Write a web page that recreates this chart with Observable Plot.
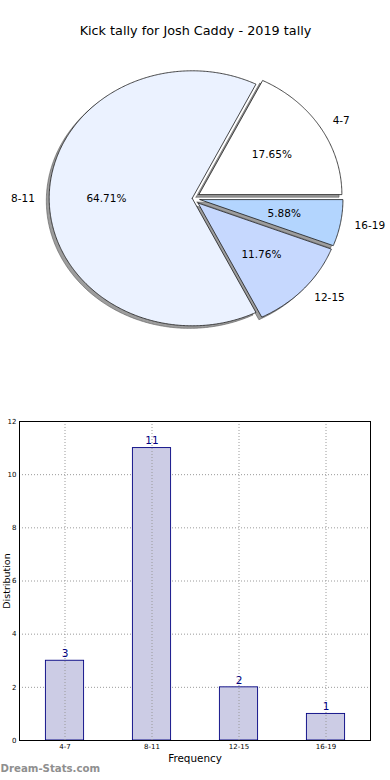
<!DOCTYPE html>
<html>
<head>
<meta charset="utf-8">
<script src="https://cdn.jsdelivr.net/npm/d3@7"></script>
<script src="https://cdn.jsdelivr.net/npm/@observablehq/plot@0.6"></script>
<style>
  html, body { margin: 0; padding: 0; background: #fff; }
  #chart svg { display: block; }
</style>
</head>
<body>
<div id="chart"></div>
<script>
// ---- data ----
const title = "Kick tally for Josh Caddy - 2019 tally";
const categories = ["4-7", "8-11", "12-15", "16-19"];
const counts = [3, 11, 2, 1];
const sliceColors = ["#ffffff", "#ebf2ff", "#c6d8fe", "#b3d5fe"];
const yTicks = [0, 2, 4, 6, 8, 10, 12];
const xLabel = "Frequency";
const yLabel = "Distribution";
const watermark = "Dream-Stats.com";

// ---- pie geometry (unit radius, data coords) ----
const explode = [0.055, 0, 0.055, 0.055];
const total = d3.sum(counts);
let acc = 0;
const slices = categories.map((cat, i) => {
  const a0 = acc / total * 2 * Math.PI;
  acc += counts[i];
  const a1 = acc / total * 2 * Math.PI;
  const mid = (a0 + a1) / 2;
  const ox = explode[i] * Math.cos(mid), oy = explode[i] * Math.sin(mid);
  return {cat, i, a0, a1, mid, ox, oy, pct: (counts[i] / total * 100).toFixed(2) + "%"};
});
function outline(s, dx = 0, dy = 0) {
  const pts = [{x: s.ox + dx, y: s.oy + dy}];
  const n = Math.max(8, Math.ceil((s.a1 - s.a0) / 0.01));
  for (let k = 0; k <= n; k++) {
    const a = s.a0 + (s.a1 - s.a0) * k / n;
    pts.push({x: s.ox + dx + Math.cos(a), y: s.oy + dy + Math.sin(a)});
  }
  pts.push({x: s.ox + dx, y: s.oy + dy});
  return pts.map(p => ({...p, cat: s.cat}));
}
const wedgePts = slices.flatMap(s => outline(s));
const shadowPts = slices.flatMap(s => outline(s, -0.02, -0.02));
const catLabels = slices.map(s => ({
  x: s.ox + 1.1 * Math.cos(s.mid), y: s.oy + 1.1 * Math.sin(s.mid),
  text: s.cat, anchor: Math.cos(s.mid) >= 0 ? "start" : "end"
}));
const pctLabels = slices.map(s => ({
  x: s.ox + 0.6 * Math.cos(s.mid), y: s.oy + 0.6 * Math.sin(s.mid), text: s.pct
}));

const font = "DejaVu Sans, sans-serif";

// pixel center (191.7,197.8), rx 143, ry 127.5
const pie = Plot.plot({
  width: 390, height: 400,
  marginTop: 0, marginBottom: 0, marginLeft: 0, marginRight: 0,
  style: {fontFamily: font, background: "white"},
  x: {domain: [-191.7 / 143, (390 - 191.7) / 143], axis: null},
  y: {domain: [-(400 - 197.8) / 127.5, 197.8 / 127.5], axis: null},
  color: {domain: categories, range: sliceColors},
  marks: [
    Plot.line(shadowPts, {x: "x", y: "y", z: "cat", fill: "#4d4d4d", fillOpacity: 0.55, stroke: "#555", strokeWidth: 0.6, curve: "linear"}),
    Plot.line(wedgePts, {x: "x", y: "y", z: "cat", fill: "cat", stroke: "#1a1a1a", strokeWidth: 0.8, curve: "linear"}),
    Plot.text(catLabels.filter(d => d.anchor === "start"), {x: "x", y: "y", text: "text", textAnchor: "start", fontSize: 10.5, fill: "#000"}),
    Plot.text(catLabels.filter(d => d.anchor === "end"), {x: "x", y: "y", text: "text", textAnchor: "end", fontSize: 10.5, fill: "#000"}),
    Plot.text(pctLabels, {x: "x", y: "y", text: "text", fontSize: 10.5, fill: "#000"}),
    Plot.text([title], {frameAnchor: "top", dy: 30, lineAnchor: "middle", text: d => d, fontSize: 12.8, fill: "#000"})
  ]
});

const barData = categories.map((c, i) => ({cat: c, n: counts[i]}));
const bars = Plot.plot({
  width: 390, height: 380,
  marginTop: 21, marginBottom: 40, marginLeft: 19, marginRight: 20,
  style: {fontFamily: font, background: "white"},
  x: {domain: categories, padding: 0, label: null},
  y: {domain: [0, 12], label: null},
  marks: [
    Plot.gridY(yTicks, {stroke: "#9a9a9a", strokeOpacity: 1, strokeDasharray: "1,2"}),
    Plot.barY(barData, {x: "cat", y: "n", fill: "#ccccE5", stroke: "#000080", strokeWidth: 0.9, insetLeft: 24.4, insetRight: 24.4}),
    Plot.gridX({stroke: "#9a9a9a", strokeOpacity: 1, strokeDasharray: "1,2"}),
    Plot.text(barData, {x: "cat", y: "n", text: d => String(d.n), dy: -7, fontSize: 10.5, fill: "#000080"}),
    Plot.frame({stroke: "#000", strokeWidth: 1}),
    Plot.axisY({ticks: yTicks, tickSize: 0, tickPadding: 3, fontSize: 7, label: null}),
    Plot.axisX({tickSize: 0, tickPadding: 4, fontSize: 7, label: null}),
    Plot.text([xLabel], {frameAnchor: "bottom", dy: 21, text: d => d, fontSize: 10.4, fill: "#000"}),
    Plot.text([yLabel], {frameAnchor: "left", dx: -10, rotate: -90, textAnchor: "middle", lineAnchor: "bottom", text: d => d, fontSize: 9.5, fill: "#000"}),
    Plot.text([watermark], {frameAnchor: "bottom-left", dx: -19, dy: 31, textAnchor: "start", text: d => d, fontSize: 10.2, fontWeight: "bold", fill: "#8f8f8f"})
  ]
});

document.getElementById("chart").append(pie, bars);
</script>
</body>
</html>
